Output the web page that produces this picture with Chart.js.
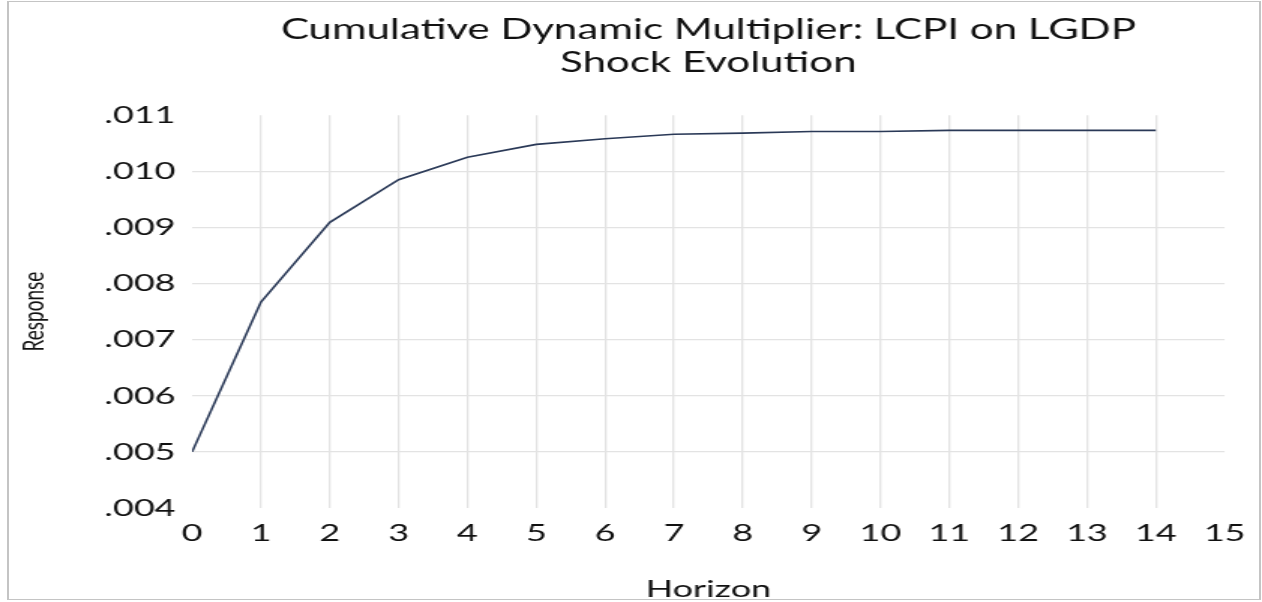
<!DOCTYPE html>
<html>
<head>
<meta charset="utf-8">
<script src="https://cdn.jsdelivr.net/npm/chart.js@4/dist/chart.umd.min.js"></script>
<style>
  html, body { margin: 0; padding: 0; background: #fff; }
  #wrap { position: relative; width: 1262px; height: 602px; overflow: hidden; }
  #frame {
    position: absolute; left: 7px; top: 1px; width: 1250px; height: 597px;
    border-style: solid; border-color: #c4c4c4;
    border-width: 1px 2px 1px 2px;
    pointer-events: none;
  }
  /* canvas is drawn narrow and stretched sideways to the full width */
  #chart { display: block; width: 1262px; height: 602px; }
</style>
</head>
<body>
<div id="wrap">
  <canvas id="chart" width="841" height="602" style="width:1262px;height:602px"></canvas>
  <div id="frame"></div>
</div>
<script>
  const horizons = [0, 1, 2, 3, 4, 5, 6, 7, 8, 9, 10, 11, 12, 13, 14];
  const responses = [
    0.00500, 0.00767, 0.00909, 0.00985, 0.01025, 0.01048, 0.01058, 0.01066,
    0.01068, 0.01071, 0.01071, 0.01073, 0.01073, 0.01073, 0.01073,
  ];
  const xTickLabels = ["0", "1", "2", "3", "4", "5", "6", "7", "8", "9", "10", "11", "12", "13", "14", "15"];
  const yTickLabels = [".004", ".005", ".006", ".007", ".008", ".009", ".010", ".011"];
  const titleLines = ["Cumulative Dynamic Multiplier: LCPI on LGDP", "Shock Evolution"];

  const FONT = "Lato, 'Open Sans', sans-serif";
  const GRID = "#e3e3e3";

  // no gridline on the outer edges of the plot
  function innerGrid(ctx) {
    const n = ctx.scale.ticks.length;
    return ctx.index === 0 || ctx.index === n - 1 ? "rgba(0,0,0,0)" : GRID;
  }

  new Chart(document.getElementById("chart"), {
    type: "line",
    data: {
      datasets: [
        {
          data: horizons.map((h, i) => ({ x: h, y: responses[i] })),
          borderColor: "#2a3957",
          borderWidth: 1.6,
          pointRadius: 0,
          tension: 0,
          fill: false,
        },
      ],
    },
    options: {
      responsive: false,
      animation: false,
      layout: { padding: { left: 0, right: 14, top: 0, bottom: 0 } },
      plugins: {
        legend: { display: false },
        tooltip: { enabled: false },
        title: {
          display: true,
          text: titleLines,
          fullSize: false,
          color: "#111",
          font: { family: FONT, size: 28, weight: "normal", lineHeight: 1.2 },
          padding: { top: 13, bottom: 35 },
        },
      },
      scales: {
        x: {
          type: "linear",
          min: 0,
          max: 15,
          border: { display: false },
          grid: { color: innerGrid, lineWidth: 1.3, drawTicks: false },
          ticks: {
            stepSize: 1,
            padding: 11,
            maxRotation: 0,
            color: "#111",
            font: { family: FONT, size: 24 },
            callback: (value, index) => xTickLabels[index],
          },
          title: {
            display: true,
            text: "Horizon",
            color: "#111",
            font: { family: FONT, size: 24, lineHeight: 1.2 },
            padding: { top: 0, bottom: -2 },
          },
          afterFit: (scale) => { scale.height = 94; },
        },
        y: {
          min: 0.004,
          max: 0.011,
          border: { display: false },
          grid: { color: innerGrid, lineWidth: 1.3, drawTicks: false },
          ticks: {
            stepSize: 0.001,
            padding: 11,
            color: "#111",
            font: { family: FONT, size: 24 },
            callback: (value, index) => yTickLabels[index],
          },
          title: {
            display: true,
            text: "Response",
            color: "#111",
            font: { family: FONT, size: 19, lineHeight: 1.2 },
            padding: { top: 11, bottom: 0 },
          },
          afterFit: (scale) => { scale.width = 128; },
        },
      },
    },
  });
</script>
</body>
</html>
